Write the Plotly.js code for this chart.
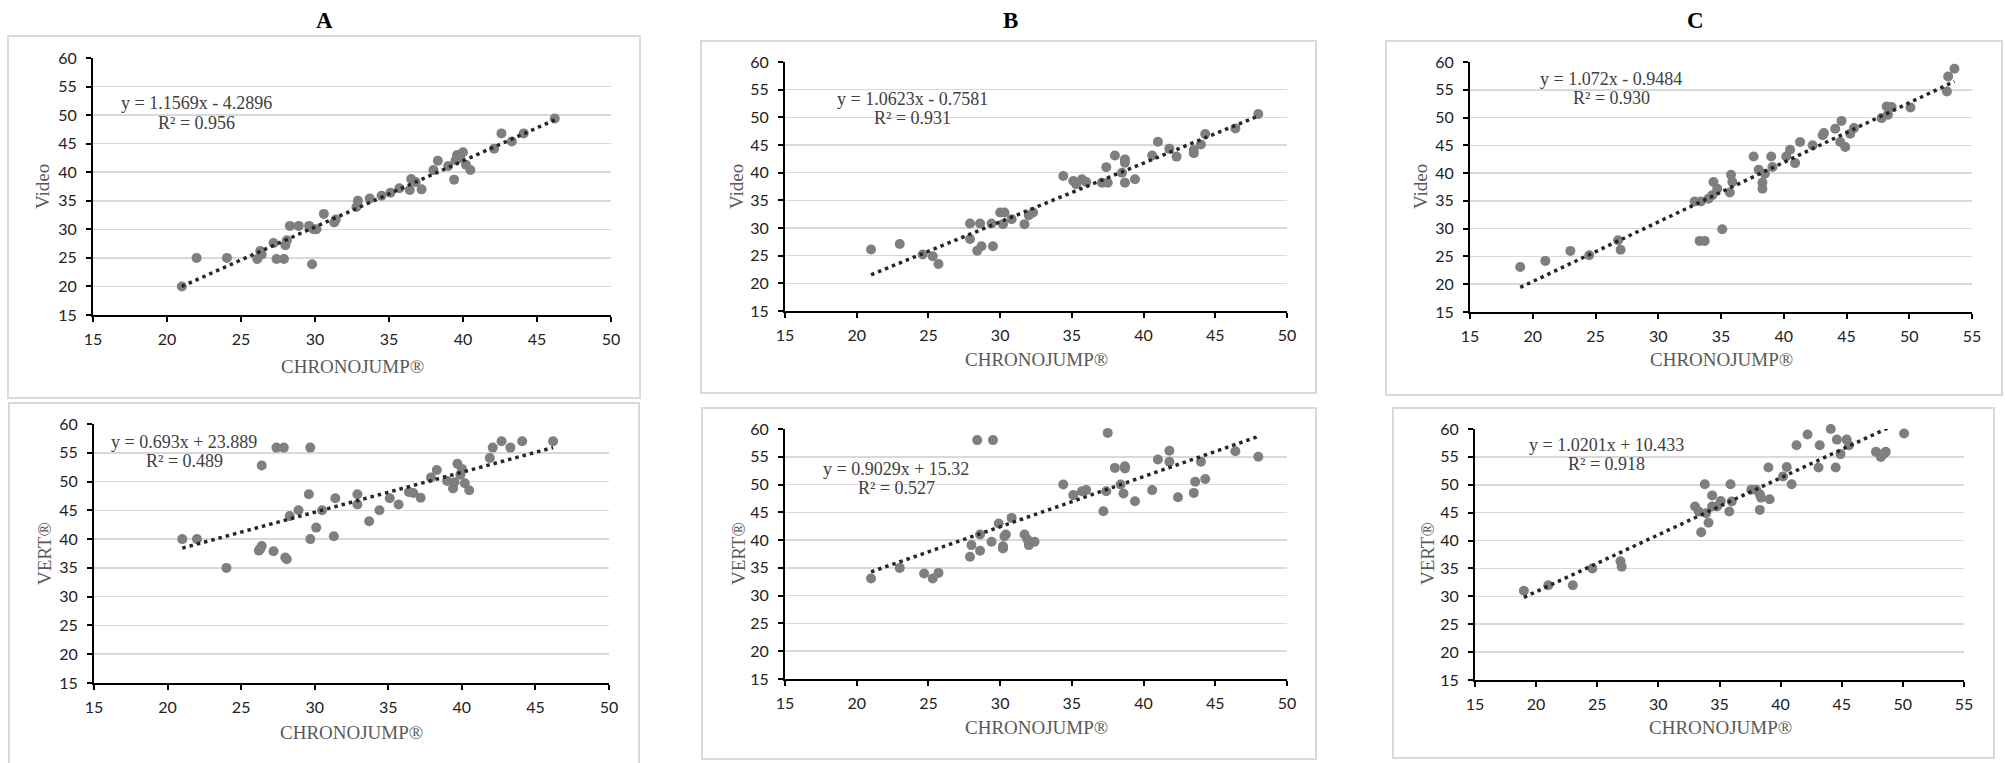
<!DOCTYPE html>
<html><head><meta charset="utf-8">
<script src="https://cdn.plot.ly/plotly-3.0.1.min.js"></script>
<style>html,body{margin:0;padding:0;background:#fff;}#chart{width:2005px;height:763px;}</style>
</head><body><div id="chart"></div>
<script>
// ---------------- DATA ----------------
const panelTitles = ['A', 'B', 'C'];
const xAxisTitle = 'CHRONOJUMP®';
const yTitleTop = 'Video';
const yTitleBottom = 'VERT®';

const aTopX = [21.0,22.0,24.05,26.1,26.3,26.4,27.2,27.4,27.9,28.0,28.1,28.3,28.9,29.6,29.8,29.9,30.1,30.6,31.3,31.4,32.8,32.9,33.7,34.5,35.1,35.7,36.4,36.5,36.8,37.2,38.0,38.3,39.0,39.4,39.5,39.6,39.8,40.0,40.2,40.5,42.1,42.6,43.3,44.1,46.2];
const aTopY = [20.0,25.0,25.0,24.8,26.2,25.6,27.6,24.8,24.8,27.2,28.1,30.6,30.6,30.6,23.9,30.0,30.0,32.7,31.2,31.7,33.9,35.0,35.4,35.9,36.4,37.2,36.9,38.8,38.3,37.0,40.4,42.0,41.1,38.7,42.1,43.0,42.5,43.5,41.3,40.4,44.1,46.8,45.4,46.8,49.4];

const bTopX = [21.0,23.0,24.6,25.3,25.7,27.9,27.9,28.4,28.6,28.7,29.4,29.5,30.0,30.2,30.3,30.8,31.7,32.0,32.3,34.4,35.1,35.3,35.7,36.0,37.1,37.4,37.5,38.0,38.5,38.7,38.7,38.7,39.4,40.6,41.0,41.8,42.3,43.5,43.5,44.0,44.3,46.4,48.0];
const bTopY = [26.1,27.1,25.2,24.9,23.5,30.8,28.0,25.9,30.8,26.7,30.8,26.7,32.8,30.7,32.8,31.6,30.7,32.3,32.8,39.4,38.5,37.9,38.8,38.3,38.2,41.0,38.2,43.1,40.0,42.4,41.8,38.2,38.8,43.1,45.6,44.3,42.9,43.5,44.1,45.1,47.0,48.0,50.6];

const cTopX = [19.0,21.0,23.0,24.5,26.8,27.0,32.9,33.4,33.3,33.7,34.0,34.3,34.4,34.7,35.1,35.7,35.8,35.9,37.6,38.0,38.3,38.3,38.5,39.0,39.1,40.2,40.5,40.9,41.3,42.3,43.1,43.2,44.1,44.5,44.6,44.9,45.3,45.6,47.8,48.2,48.3,48.6,50.1,53.0,53.1,53.6];
const cTopY = [23.1,24.2,26.0,25.2,27.9,26.2,34.9,34.9,27.8,27.8,35.4,36.0,38.4,37.2,29.9,36.5,39.7,38.4,43.0,40.6,38.3,37.2,39.9,43.0,41.1,43.0,44.2,41.8,45.6,45.0,46.8,47.2,48.0,45.6,49.4,44.7,47.1,48.1,49.9,52.0,50.5,51.9,51.8,54.7,57.4,58.8];

const aBotX = [21.0,22.0,24.0,26.2,26.3,26.4,26.4,27.2,27.4,27.9,28.0,28.1,28.3,28.9,29.6,29.7,29.7,30.1,30.5,31.3,31.4,32.9,32.9,33.7,34.4,35.1,35.7,36.4,36.7,37.2,37.9,38.3,39.0,39.4,39.5,39.7,39.9,40.0,40.2,40.5,41.9,42.1,42.7,43.3,44.1,46.2];
const aBotY = [40.0,40.0,35.0,38.0,38.3,38.8,52.8,37.9,55.9,55.9,36.8,36.5,44.0,45.0,47.8,55.9,40.0,42.0,45.0,40.5,47.1,47.8,46.0,43.1,45.0,47.1,46.0,48.2,48.0,47.2,50.7,52.0,50.1,48.8,49.9,53.1,51.2,52.2,49.7,48.5,54.1,55.9,57.0,55.9,57.0,57.0];

const bBotX = [21.0,23.0,24.7,25.3,25.7,27.9,28.0,28.4,28.6,28.6,29.4,29.5,29.9,30.2,30.2,30.3,30.4,30.8,31.7,31.9,32.0,32.4,34.4,35.1,35.7,36.0,37.2,37.4,37.5,38.0,38.4,38.6,38.7,38.7,39.4,40.6,41.0,41.8,41.8,42.4,43.5,43.6,44.0,44.3,46.4,48.0];
const bBotY = [33.1,35.0,34.0,33.1,34.1,37.0,39.1,58.0,38.1,41.0,39.7,58.0,43.0,38.9,38.5,40.7,41.0,44.0,41.0,40.1,39.1,39.7,50.0,48.1,48.8,49.0,45.2,48.8,59.3,53.0,50.0,48.4,53.3,52.9,47.0,49.0,54.5,56.1,54.1,47.7,48.5,50.5,54.1,51.0,56.0,55.0];

const cBotX = [19.0,21.0,23.0,24.6,26.9,27.0,33.0,33.3,33.5,33.8,33.9,34.1,34.4,34.4,34.8,35.1,35.8,35.9,36.0,37.6,38.0,38.3,38.3,38.4,39.0,39.1,40.2,40.5,40.9,41.3,42.2,43.1,43.2,44.1,44.5,44.6,44.9,45.4,45.6,47.8,48.2,48.4,48.6,50.1];
const cBotY = [31.0,32.0,32.0,35.0,36.3,35.3,46.1,45.2,41.5,50.1,44.9,43.2,48.1,46.1,46.1,47.1,45.2,50.1,47.0,49.1,49.1,48.3,45.5,47.7,53.1,47.4,51.5,53.2,50.1,57.1,59.0,53.1,57.1,60.0,53.1,58.1,55.5,58.1,57.1,55.9,55.0,55.5,55.9,59.2];

// trendline equations (as printed on the chart)
const slopes = [1.1569, 1.0623, 1.072, 0.693, 0.9029, 1.0201];
const intercepts = [-4.2896, -0.7581, -0.9484, 23.889, 15.32, 10.433];
const eqLabels = ['y = 1.1569x - 4.2896', 'y = 1.0623x - 0.7581', 'y = 1.072x - 0.9484',
                  'y = 0.693x + 23.889', 'y = 0.9029x + 15.32', 'y = 1.0201x + 10.433'];
const r2Labels = ['R² = 0.956', 'R² = 0.931', 'R² = 0.930', 'R² = 0.489', 'R² = 0.527', 'R² = 0.918'];

const xMaxAB = 50, xMaxC = 55, xMin = 15, yMin = 15, yMax = 60;

// ---------------- LAYOUT GEOMETRY (pixels) ----------------
const W = 2005, H = 763;
const fx = v => v / W;
const fy = v => 1 - v / H;

const panels = [
  {xs: aTopX, ys: aTopY, xmax: xMaxAB, plot: [93, 611, 58, 315], box: [8, 640, 36, 398], ytitle: yTitleTop, ytPos: [42, 187], xtPos: [352, 366], eqPos: [196, 103, 123]},
  {xs: bTopX, ys: bTopY, xmax: xMaxAB, plot: [785, 1287, 62, 311], box: [701, 1316, 41, 393], ytitle: yTitleTop, ytPos: [736, 187], xtPos: [1036, 360], eqPos: [912, 99, 118]},
  {xs: cTopX, ys: cTopY, xmax: xMaxC, plot: [1470, 1972, 62, 312], box: [1386, 2002, 41, 395], ytitle: yTitleTop, ytPos: [1420, 187], xtPos: [1721, 360], eqPos: [1611, 79, 98]},
  {xs: aBotX, ys: aBotY, xmax: xMaxAB, plot: [94, 609, 424, 683], box: [9, 639, 403, 770], ytitle: yTitleBottom, ytPos: [44, 554], xtPos: [351, 732], eqPos: [184, 442, 461]},
  {xs: bBotX, ys: bBotY, xmax: xMaxAB, plot: [785, 1287, 429, 679], box: [702, 1316, 408, 759], ytitle: yTitleBottom, ytPos: [738, 554], xtPos: [1036, 727], eqPos: [896, 469, 488]},
  {xs: cBotX, ys: cBotY, xmax: xMaxC, plot: [1475, 1964, 429, 680], box: [1393, 1994, 408, 758], ytitle: yTitleBottom, ytPos: [1427, 554], xtPos: [1720, 727], eqPos: [1606, 445, 464]}
];
const titlePos = [[324, 20], [1010, 20], [1695, 20]];

const tickFont = {family: 'Lato, "Open Sans", sans-serif', size: 16, color: '#222'};
const serif = '"Liberation Serif", "Times New Roman", serif';

const traces = [];
const layout = {
  width: W, height: H,
  margin: {l: 0, r: 0, t: 0, b: 0},
  paper_bgcolor: '#fff', plot_bgcolor: '#fff',
  showlegend: false,
  shapes: [], annotations: []
};

panels.forEach((p, i) => {
  const n = i + 1;
  const xa = n === 1 ? 'x' : 'x' + n;
  const ya = n === 1 ? 'y' : 'y' + n;
  const xk = n === 1 ? 'xaxis' : 'xaxis' + n;
  const yk = n === 1 ? 'yaxis' : 'yaxis' + n;
  const tv = [];
  for (let v = xMin; v <= p.xmax; v += 5) tv.push(v);
  layout[xk] = {
    domain: [fx(p.plot[0]), fx(p.plot[1])], anchor: ya,
    range: [xMin, p.xmax], tickvals: tv, ticktext: tv.map(String),
    showgrid: false, zeroline: false, showline: true, linecolor: '#000', linewidth: 2,
    ticks: 'outside', ticklen: 5, tickwidth: 2, tickcolor: '#000',
    tickfont: tickFont, ticklabelstandoff: 4, fixedrange: true
  };
  const yv = [];
  for (let v = yMin; v <= yMax; v += 5) yv.push(v);
  layout[yk] = {
    domain: [fy(p.plot[3]), fy(p.plot[2])], anchor: xa,
    range: [yMin, yMax], tickvals: yv, ticktext: yv.map(String),
    showgrid: true, gridcolor: '#d9d9d9', gridwidth: 1.5,
    zeroline: false, showline: true, linecolor: '#000', linewidth: 2,
    ticks: 'outside', ticklen: 5, tickwidth: 2, tickcolor: '#000',
    tickfont: tickFont, ticklabelstandoff: 6, fixedrange: true
  };
  // points
  traces.push({
    type: 'scatter', mode: 'markers', x: p.xs, y: p.ys, xaxis: xa, yaxis: ya,
    marker: {color: '#7f7f7f', size: 10, line: {width: 0}}, cliponaxis: false, hoverinfo: 'x+y'
  });
  // trendline from the printed equation
  const x0 = Math.min(...p.xs), x1 = Math.max(...p.xs);
  traces.push({
    type: 'scatter', mode: 'lines', x: [x0, x1],
    y: [slopes[i] * x0 + intercepts[i], slopes[i] * x1 + intercepts[i]],
    xaxis: xa, yaxis: ya, line: {color: '#262626', width: 3.5, dash: '3.5px,4px'}, hoverinfo: 'skip'
  });
  // panel border
  layout.shapes.push({type: 'rect', xref: 'paper', yref: 'paper',
    x0: fx(p.box[0]), x1: fx(p.box[1]), y0: fy(p.box[3]), y1: fy(p.box[2]),
    line: {color: '#d9d9d9', width: 2}, fillcolor: 'rgba(0,0,0,0)', layer: 'below'});
  // axis titles
  layout.annotations.push({xref: 'paper', yref: 'paper', x: fx(p.xtPos[0]), y: fy(p.xtPos[1]),
    xanchor: 'center', yanchor: 'middle', showarrow: false, text: xAxisTitle,
    font: {family: serif, size: 19, color: '#595959'}});
  layout.annotations.push({xref: 'paper', yref: 'paper', x: fx(p.ytPos[0]), y: fy(p.ytPos[1]),
    xanchor: 'center', yanchor: 'middle', showarrow: false, text: p.ytitle, textangle: -90,
    font: {family: serif, size: 19, color: '#595959'}});
  // equation + R²
  layout.annotations.push({xref: 'paper', yref: 'paper', x: fx(p.eqPos[0]), y: fy(p.eqPos[1]),
    xanchor: 'center', yanchor: 'middle', showarrow: false, text: eqLabels[i],
    font: {family: serif, size: 18, color: '#404040'}});
  layout.annotations.push({xref: 'paper', yref: 'paper', x: fx(p.eqPos[0]), y: fy(p.eqPos[2]),
    xanchor: 'center', yanchor: 'middle', showarrow: false, text: r2Labels[i],
    font: {family: serif, size: 18, color: '#404040'}});
});

panelTitles.forEach((t, j) => {
  layout.annotations.push({xref: 'paper', yref: 'paper', x: fx(titlePos[j][0]), y: fy(titlePos[j][1]),
    xanchor: 'center', yanchor: 'middle', showarrow: false, text: '<b>' + t + '</b>',
    font: {family: serif, size: 23, color: '#000'}});
});

Plotly.newPlot('chart', traces, layout, {displayModeBar: false, staticPlot: true});
</script>
</body></html>
